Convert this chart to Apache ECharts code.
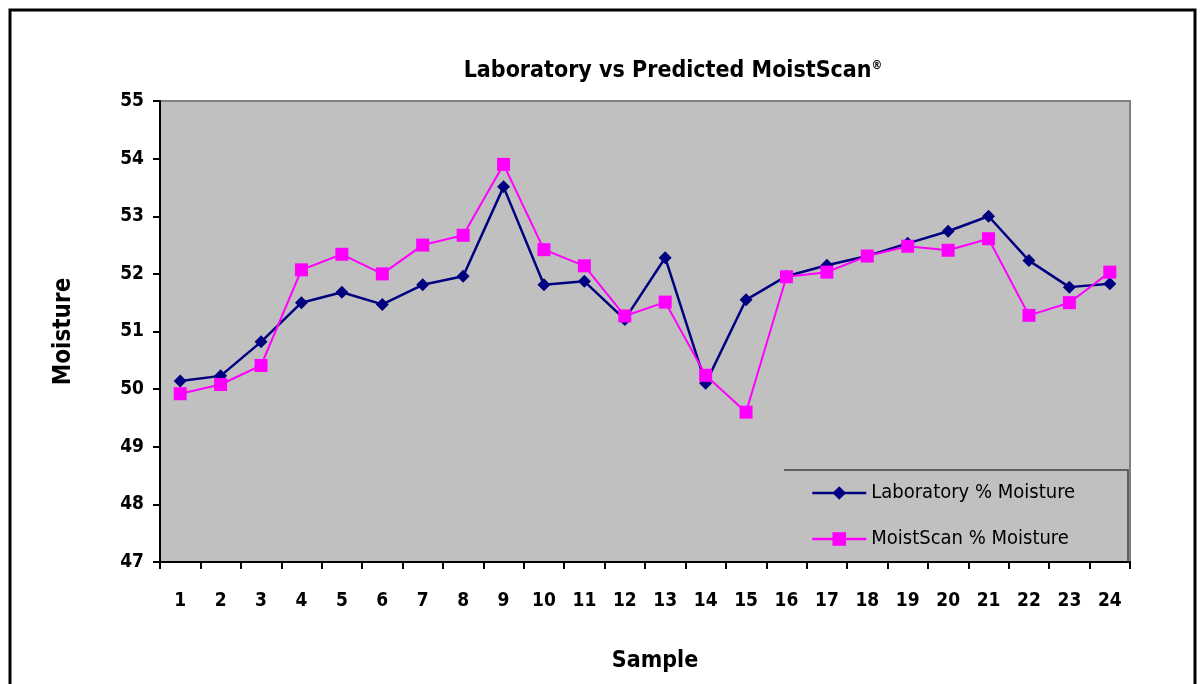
<!DOCTYPE html>
<html><head><meta charset="utf-8">
<script src="https://cdn.jsdelivr.net/npm/echarts@6/dist/echarts.min.js"></script>
<style>html,body{margin:0;padding:0;background:#fff}#c{width:1201px;height:684px}</style>
</head><body><div id="c"></div>
<script>
const samples = ['1','2','3','4','5','6','7','8','9','10','11','12','13','14','15','16','17','18','19','20','21','22','23','24'];
const laboratory = [50.14,50.23,50.82,51.50,51.68,51.47,51.81,51.96,53.51,51.81,51.87,51.21,52.28,50.10,51.55,51.96,52.15,52.31,52.53,52.74,53.00,52.23,51.77,51.83];
const moistscan = [49.92,50.08,50.41,52.07,52.34,52.00,52.50,52.67,53.90,52.42,52.14,51.27,51.51,50.24,49.60,51.95,52.03,52.31,52.48,52.41,52.61,51.28,51.50,52.03];
const yTicks = [47,48,49,50,51,52,53,54,55];

const FONT = "'Liberation Sans Narrow','DejaVu Sans Condensed','Open Sans',sans-serif";
const chart = echarts.init(document.getElementById('c'), null, {renderer:'canvas'});
chart.setOption({
  animation:false,
  backgroundColor:'#ffffff',
  title:{text:'Laboratory vs Predicted MoistScan{s|\u00AE}', left:668, top:55, textAlign:'center',
    textStyle:{fontFamily:FONT, fontWeight:'bold', fontSize:23, color:'#000',
      rich:{s:{fontFamily:FONT, fontWeight:'bold', fontSize:12, color:'#000', verticalAlign:'top', padding:[0,0,10,0]}}}},
  grid:{left:160, right:71, top:101, bottom:122, show:true, backgroundColor:'#c0c0c0', borderColor:'#808080', borderWidth:2},
  legend:{orient:'vertical', left:806, top:478, itemGap:26, itemWidth:54, itemHeight:17,
    lineStyle:{width:2.5},
    textStyle:{fontFamily:FONT, fontSize:20, color:'#000'},
    data:['Laboratory % Moisture','MoistScan % Moisture']},
  xAxis:{type:'category', data:samples, boundaryGap:true, name:'Sample', nameLocation:'middle', nameGap:88,
    nameTextStyle:{fontFamily:FONT, fontWeight:'bold', fontSize:23, color:'#000', padding:[0,0,0,20]},
    axisLine:{lineStyle:{color:'#000', width:2}}, axisTick:{show:true, length:7, lineStyle:{color:'#000', width:2}},
    axisLabel:{fontFamily:FONT, fontWeight:'bold', fontSize:19, color:'#000', margin:30},
    splitLine:{show:false}},
  yAxis:{type:'value', min:yTicks[0], max:yTicks[yTicks.length-1], interval:1, name:'Moisture', nameLocation:'middle', nameGap:84,
    nameTextStyle:{fontFamily:FONT, fontWeight:'bold', fontSize:24, color:'#000'},
    axisLine:{show:true, lineStyle:{color:'#000', width:2}}, axisTick:{show:true, length:7, lineStyle:{color:'#000', width:2}},
    axisLabel:{fontFamily:FONT, fontWeight:'bold', fontSize:19, color:'#000', margin:16},
    splitLine:{show:false}},
  graphic:[
    {type:'rect', shape:{x:10, y:10, width:1185, height:700}, style:{fill:'none', stroke:'#000', lineWidth:3}, z:100},
    {type:'polyline', shape:{points:[[784,470],[1128,470],[1128,562]]}, style:{fill:'none', stroke:'#404040', lineWidth:1.5}, z:50}
  ],
  series:[
    {name:'Laboratory % Moisture', type:'line', data:laboratory, symbol:'diamond', symbolSize:13,
     itemStyle:{color:'#000080'}, lineStyle:{color:'#000080', width:2.5}, z:3},
    {name:'MoistScan % Moisture', type:'line', data:moistscan, symbol:'rect', symbolSize:13,
     itemStyle:{color:'#ff00ff'}, lineStyle:{color:'#ff00ff', width:2}, z:4}
  ]
});
</script></body></html>
